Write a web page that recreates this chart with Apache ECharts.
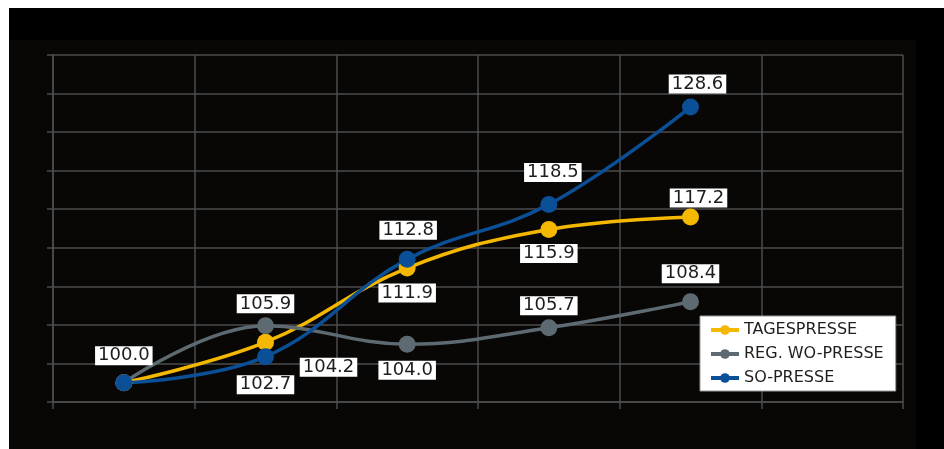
<!DOCTYPE html>
<html>
<head>
<meta charset="utf-8">
<script src="https://cdn.jsdelivr.net/npm/echarts@6/dist/echarts.min.js"></script>
<style>
html,body{margin:0;padding:0;background:#fff;}
#bg{position:absolute;left:9px;top:8px;width:935px;height:441px;background:#000;}
#inner{position:absolute;left:9px;top:40px;width:907px;height:409px;background:#080705;}
#chart{position:absolute;left:0;top:0;width:944px;height:449px;}
</style>
</head>
<body>
<div id="bg"></div>
<div id="inner"></div>
<div id="chart"></div>
<script>
var categories = ['1', '2', '3', '4', '5', '6'];
var seriesNames = ['TAGESPRESSE', 'REG. WO-PRESSE', 'SO-PRESSE'];
var tagespresse = [100.0, 104.2, 111.9, 115.9, 117.2];
var regWoPresse = [100.0, 105.9, 104.0, 105.7, 108.4];
var soPresse = [100.0, 102.7, 112.8, 118.5, 128.6];
// label offsets (centre of label box relative to point)
var tagesOffsets = [null, [63, 25], [0, 25], [0, 24], [8, -19]];
var regOffsets = [null, [0, -22], [0, 26], [0, -22], [0, -28]];
var soOffsets = [[0, -27], [0, 28], [1, -29], [4, -32], [7, -23]];
var colors = ['#F4B800', '#5E6A72', '#0B4F97'];

function buildData(values, offsets) {
  return values.map(function (v, i) {
    var o = offsets[i];
    if (!o) return { value: v, label: { show: false } };
    return { value: v, label: { show: true, position: 'inside', offset: o } };
  });
}

var labelStyle = {
  formatter: function (p) { return p.value.toFixed(1); },
  color: '#1c1c1c',
  fontFamily: 'DejaVu Sans',
  fontWeight: 500,
  fontSize: 18,
  lineHeight: 19,
  backgroundColor: '#fff',
  padding: [0, 3, 0, 3]
};

function makeSeries(name, values, offsets, color) {
  return {
    name: name,
    type: 'line',
    smooth: 0.4,
    symbol: 'circle',
    symbolSize: 17,
    showAllSymbol: true,
    lineStyle: { color: color, width: 3.5 },
    itemStyle: { color: color },
    label: labelStyle,
    emphasis: { disabled: true },
    data: buildData(values, offsets)
  };
}

var chart = echarts.init(document.getElementById('chart'), null, { renderer: 'canvas' });
chart.setOption({
  backgroundColor: 'transparent',
  animation: false,
  grid: { left: 53, right: 41, top: 55, bottom: 47 },
  legend: {
    data: seriesNames.map(function (n) {
      return { name: n, itemStyle: { borderWidth: 0 }, lineStyle: { width: 4 } };
    }),
    orient: 'vertical',
    left: 700,
    top: 316,
    backgroundColor: '#fff',
    borderColor: '#999',
    borderWidth: 1,
    padding: [5, 12, 4, 9],
    itemGap: 6,
    itemWidth: 28,
    itemHeight: 12,
    textStyle: { color: '#1e1e1e', fontFamily: 'DejaVu Sans', fontSize: 16, lineHeight: 18 }
  },
  xAxis: {
    type: 'category',
    data: categories,
    boundaryGap: true,
    axisLine: { lineStyle: { color: '#4c4c4c', width: 1.5 } },
    axisTick: { show: true, length: 7, lineStyle: { color: '#4c4c4c', width: 1.5 } },
    axisLabel: { show: false },
    splitLine: { show: true, lineStyle: { color: '#4c4c4c', width: 1.5 } }
  },
  yAxis: {
    type: 'value',
    min: 98,
    max: 134,
    interval: 4,
    axisLine: { show: true, lineStyle: { color: '#4c4c4c', width: 1.5 } },
    axisTick: { show: true, length: 6, lineStyle: { color: '#4c4c4c', width: 1.5 } },
    axisLabel: { show: false },
    splitLine: { show: true, lineStyle: { color: '#4c4c4c', width: 1.5 } }
  },
  series: [
    makeSeries(seriesNames[0], tagespresse, tagesOffsets, colors[0]),
    makeSeries(seriesNames[1], regWoPresse, regOffsets, colors[1]),
    makeSeries(seriesNames[2], soPresse, soOffsets, colors[2])
  ]
});
</script>
</body>
</html>
